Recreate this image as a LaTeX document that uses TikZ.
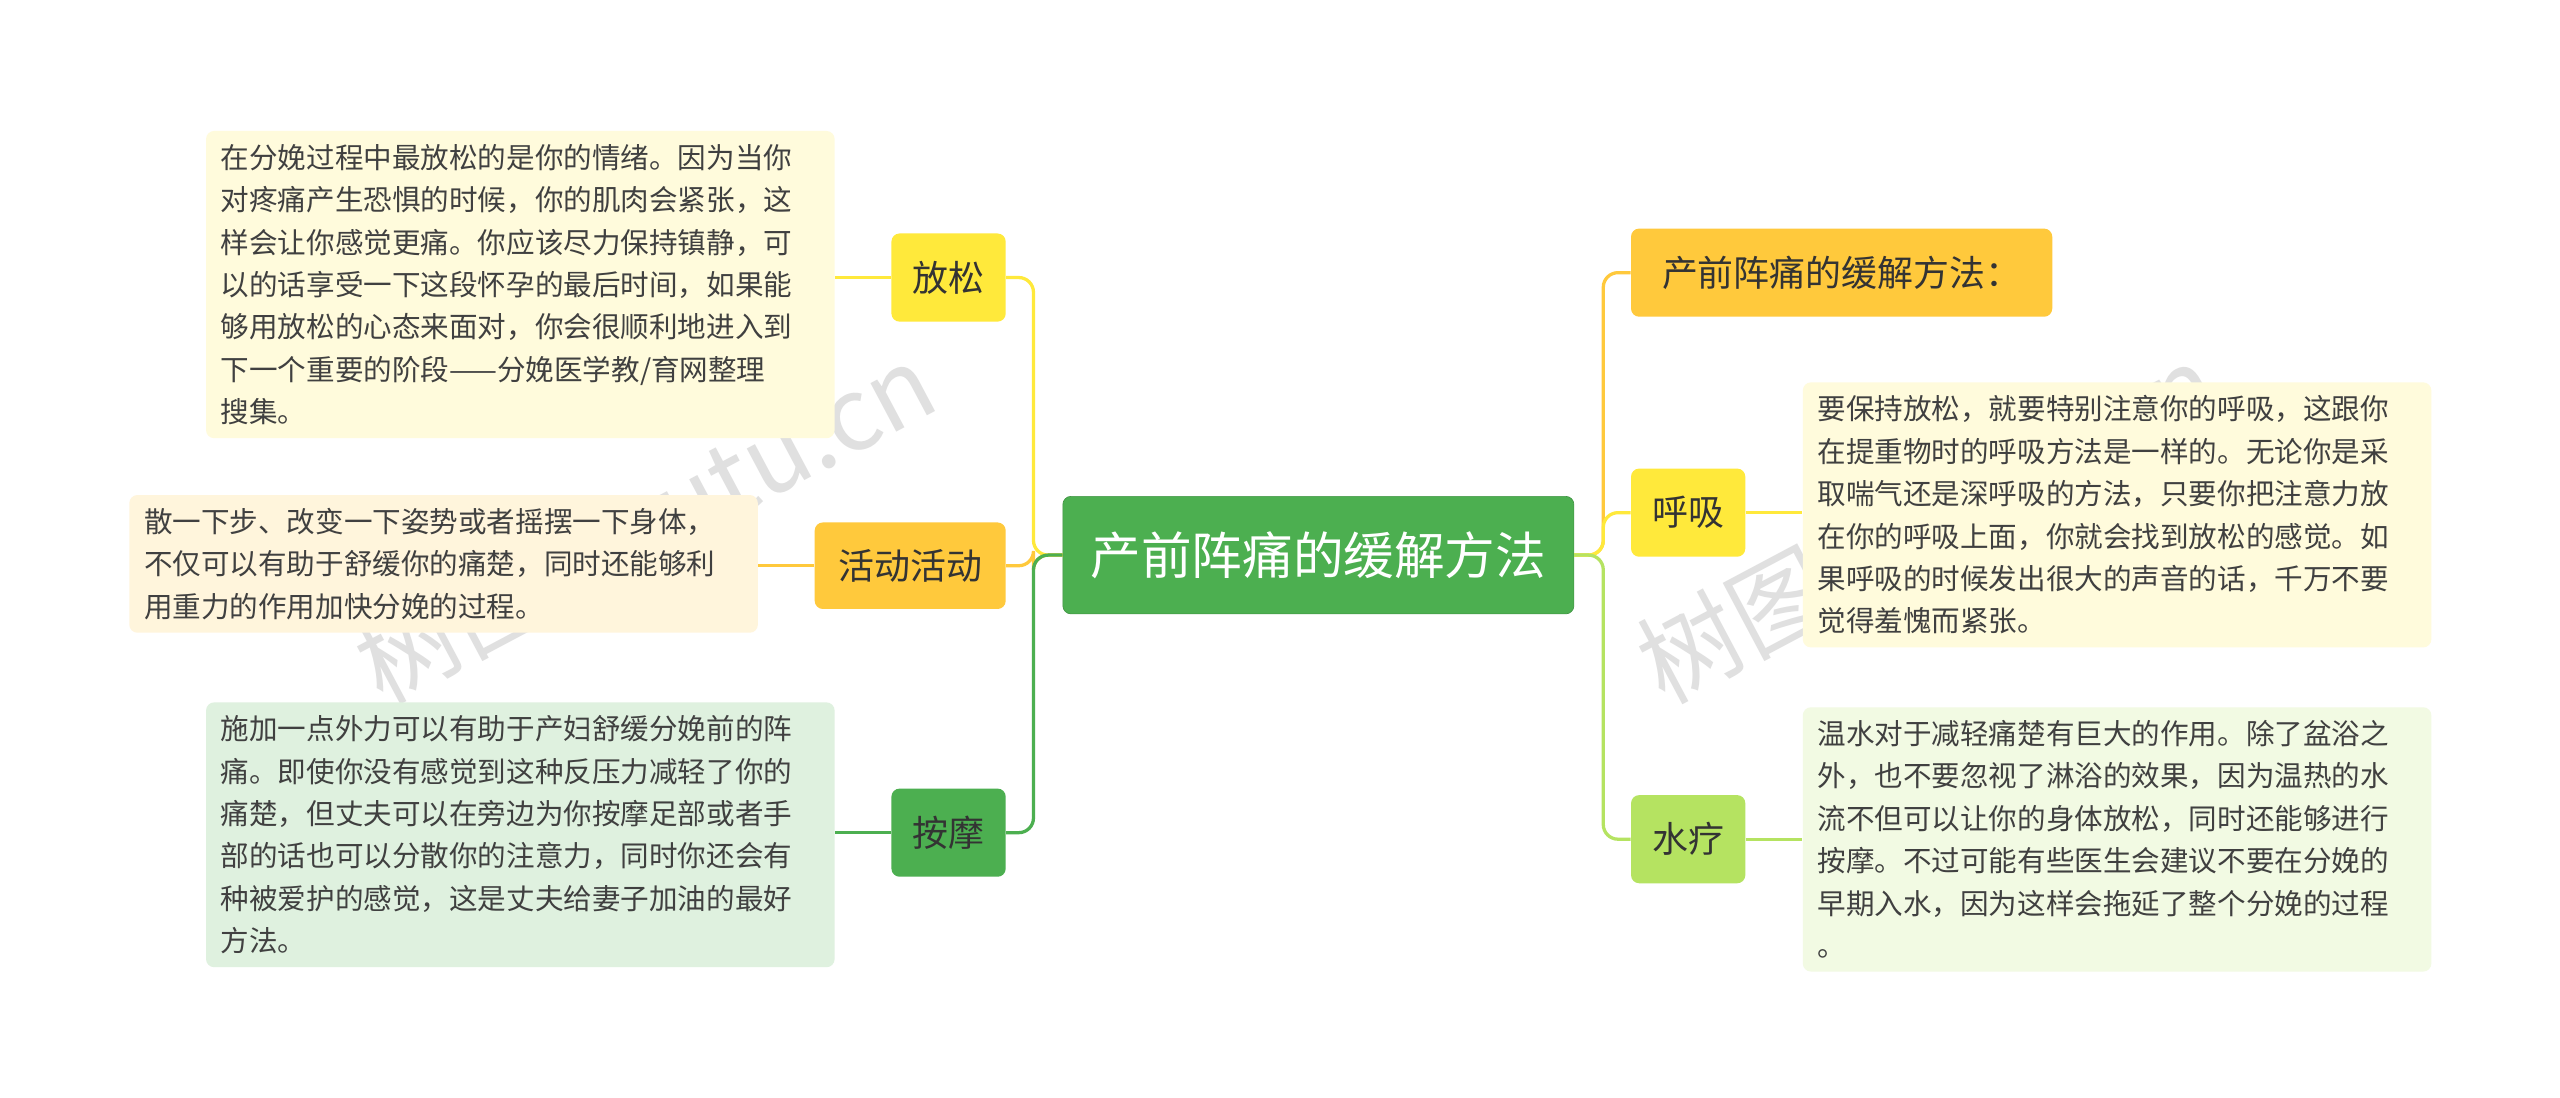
\documentclass[tikz,border=0pt]{standalone}
\usepackage{fontspec}
\setmainfont{Noto Sans CJK SC}
\definecolor{cgreen}{HTML}{4CAF50}
\definecolor{cyel}{HTML}{FFE93B}
\definecolor{corg}{HTML}{FFC93C}
\definecolor{clime}{HTML}{B5E361}
\begin{document}
\begin{tikzpicture}[x=1pt,y=-1pt,
  box/.style={rounded corners=5pt,inner sep=0pt,align=center,font=\fontsize{22}{22}\selectfont,text=black!80},
  txt/.style={rounded corners=5pt,anchor=north west,inner xsep=9pt,inner ysep=8pt,text width=367pt,align=left,font=\fontsize{17.5}{26}\selectfont,text=black!75},
  ln/.style={line width=2pt,rounded corners=9pt}]
\path[use as bounding box,fill=white] (0,0) rectangle (1568,672);
% watermarks
\node[text=black!12,rotate=28,font=\fontsize{62}{62}\selectfont] (w1) at (395,320) {树图 shutu.cn};
\node[text=black!12,rotate=28,font=\fontsize{62}{62}\selectfont] (w2) at (1180,320) {树图 shutu.cn};
% central
\node[box,fill=cgreen,draw=cgreen!85!black,minimum width=313pt,minimum height=72pt,text=white,font=\fontsize{31}{31}\selectfont] (c) at (807.5,340) {产前阵痛的缓解方法};
% left branches
\node[box,fill=cyel,minimum width=70pt,minimum height=54pt] (b1) at (581,170) {放松};
\node[box,fill=corg,minimum width=117pt,minimum height=53pt] (b2) at (557.5,346.5) {活动活动};
\node[box,fill=cgreen,minimum width=70pt,minimum height=54pt] (b3) at (581,510) {按摩};
% right branches
\node[box,fill=corg,minimum width=258pt,minimum height=54pt] (r1) at (1128,167) {产前阵痛的缓解方法：};
\node[box,fill=cyel,minimum width=70pt,minimum height=54pt] (r2) at (1034,314) {呼吸};
\node[box,fill=clime,minimum width=70pt,minimum height=54pt] (r3) at (1034,514) {水疗};
% text boxes
\node[txt,fill=cyel!18] (t1) at (126,80) {在分娩过程中最放松的是你的情绪。因为当你\\对疼痛产生恐惧的时候，你的肌肉会紧张，这\\样会让你感觉更痛。你应该尽力保持镇静，可\\以的话享受一下这段怀孕的最后时间，如果能\\够用放松的心态来面对，你会很顺利地进入到\\下一个重要的阶段——分娩医学教/育网整理\\搜集。};
\node[txt,fill=corg!18] (t2) at (79,303) {散一下步、改变一下姿势或者摇摆一下身体，\\不仅可以有助于舒缓你的痛楚，同时还能够利\\用重力的作用加快分娩的过程。};
\node[txt,fill=cgreen!18] (t3) at (126,430) {施加一点外力可以有助于产妇舒缓分娩前的阵\\痛。即使你没有感觉到这种反压力减轻了你的\\痛楚，但丈夫可以在旁边为你按摩足部或者手\\部的话也可以分散你的注意力，同时你还会有\\种被爱护的感觉，这是丈夫给妻子加油的最好\\方法。};
\node[txt,fill=cyel!18] (t4) at (1104,234) {要保持放松，就要特别注意你的呼吸，这跟你\\在提重物时的呼吸方法是一样的。无论你是采\\取喘气还是深呼吸的方法，只要你把注意力放\\在你的呼吸上面，你就会找到放松的感觉。如\\果呼吸的时候发出很大的声音的话，千万不要\\觉得羞愧而紧张。};
\node[txt,fill=clime!18] (t5) at (1104,433) {温水对于减轻痛楚有巨大的作用。除了盆浴之\\外，也不要忽视了淋浴的效果，因为温热的水\\流不但可以让你的身体放松，同时还能够进行\\按摩。不过可能有些医生会建议不要在分娩的\\早期入水，因为这样会拖延了整个分娩的过程\\。};
% connectors
\draw[ln,cyel] (c.west) -- (633,340) |- (b1.east);
\draw[ln,corg] (c.west) -- (633,340) |- (b2.east);
\draw[ln,cgreen] (c.west) -- (633,340) |- (b3.east);
\draw[ln,corg] (c.east) -- (982,340) |- (r1.west);
\draw[ln,cyel] (c.east) -- (982,340) |- (r2.west);
\draw[ln,clime] (c.east) -- (982,340) |- (r3.west);
\draw[ln,cyel] (b1.west) -- (b1.west -| t1.east);
\draw[ln,corg] (b2.west) -- (b2.west -| t2.east);
\draw[ln,cgreen] (b3.west) -- (b3.west -| t3.east);
\draw[ln,cyel] (r2.east) -- (r2.east -| t4.west);
\draw[ln,clime] (r3.east) -- (r3.east -| t5.west);
\end{tikzpicture}
\end{document}
